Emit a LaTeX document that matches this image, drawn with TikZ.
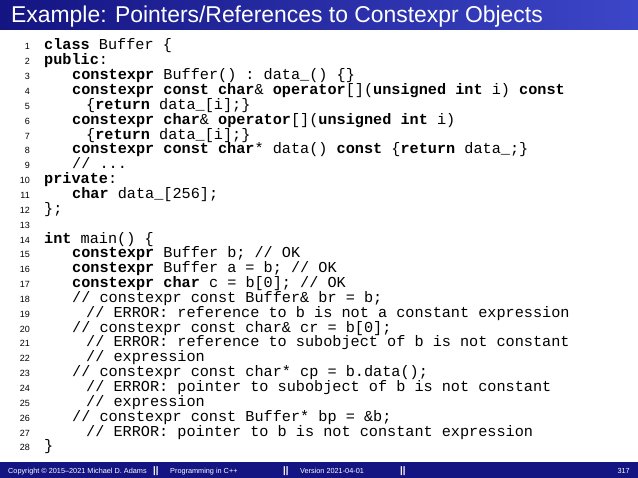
\documentclass[tikz,border=0pt]{standalone}
\usepackage{fontspec}
\setmainfont{Liberation Sans}
\setmonofont{Liberation Mono}
\definecolor{bardark}{RGB}{20,20,130}
\definecolor{barlight}{RGB}{60,70,200}
\newcommand{\kw}[1]{\textbf{#1}}
\begin{document}
\begin{tikzpicture}[x=1pt,y=-1pt,
  code/.style={anchor=base west,inner sep=0pt,font=\fontsize{15.2}{15}\selectfont\ttfamily},
  lno/.style={anchor=base east,inner sep=0pt,font=\fontsize{9}{10}\selectfont},
  foot/.style={anchor=base west,inner sep=0pt,text=white,font=\fontsize{7.3}{9}\selectfont},
  bars/.style={foot,font=\fontsize{9.5}{10}\selectfont\bfseries}]
\useasboundingbox (0,0) rectangle (638,478);
\fill[white] (0,0) rectangle (638,478);
\shade[left color=bardark,right color=barlight] (0,0) rectangle (638,30);
\node[anchor=base west,inner sep=0pt,text=white,font=\fontsize{22.9}{24}\selectfont] (title) at (11,23) {Example: Pointers/References to Constexpr Objects};
\fill[bardark] (0,462) rectangle (638,478);
\node[foot] (f1) at (8,474) {Copyright \textcopyright\ 2015--2021 Michael D. Adams};
\node[bars] (f2) at (153,474) {||};
\node[foot] (f3) at (170,474) {Programming in C++};
\node[bars] (f4) at (283,474) {||};
\node[foot] (f5) at (300,474) {Version 2021-04-01};
\node[bars] (f6) at (400,474) {||};
\node[foot,anchor=base east] (f7) at (630,474) {317};
\foreach \n/\x/\t in {
1/44/{\kw{class} Buffer \{},
2/44/{\kw{public}:},
3/72/{\kw{constexpr} Buffer() : data\_() \{\}},
4/72/{\kw{constexpr const char}\& \kw{operator}[](\kw{unsigned int} i) \kw{const}},
5/86/{\{\kw{return} data\_[i];\}},
6/72/{\kw{constexpr char}\& \kw{operator}[](\kw{unsigned int} i)},
7/86/{\{\kw{return} data\_[i];\}},
8/72/{\kw{constexpr const char}* data() \kw{const} \{\kw{return} data\_;\}},
9/72/{// ...},
10/44/{\kw{private}:},
11/72/{\kw{char} data\_[256];},
12/44/{\};},
13/44/{},
14/44/{\kw{int} main() \{},
15/72/{\kw{constexpr} Buffer b; // OK},
16/72/{\kw{constexpr} Buffer a = b; // OK},
17/72/{\kw{constexpr char} c = b[0]; // OK},
18/72/{// constexpr const Buffer\& br = b;},
19/86/{// ERROR: reference to b is not a constant expression},
20/72/{// constexpr const char\& cr = b[0];},
21/86/{// ERROR: reference to subobject of b is not constant},
22/86/{// expression},
23/72/{// constexpr const char* cp = b.data();},
24/86/{// ERROR: pointer to subobject of b is not constant},
25/86/{// expression},
26/72/{// constexpr const Buffer* bp = \&b;},
27/86/{// ERROR: pointer to b is not constant expression},
28/44/{\}}} {
  \node[lno] (n\n) at (30,{50+(\n-1)*14.85}) {\n};
  \node[code] (c\n) at (\x,{50+(\n-1)*14.85}) {\t};
}
\end{tikzpicture}
\end{document}
